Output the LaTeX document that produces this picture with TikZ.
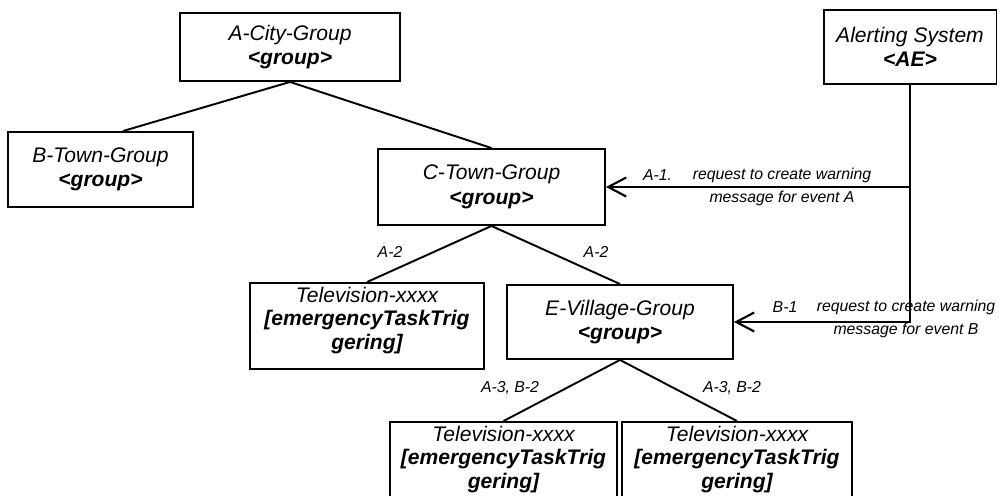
\documentclass[tikz,border=0pt]{standalone}
\usepackage{fontspec}
\setmainfont{Liberation Sans}
\usetikzlibrary{arrows.meta}

\begin{document}
\begin{tikzpicture}[
    x=0.02cm, y=-0.02cm,
    group box/.style={draw, line width=1.1pt, align=center, inner sep=1pt,
        font=\fontsize{12}{14}\selectfont\itshape},
    device box/.style={group box, font=\fontsize{12}{13.5}\selectfont\itshape, text depth=9pt},
    tree line/.style={line width=1.1pt},
    request line/.style={line width=1.2pt, -{Straight Barb[length=3.6mm, width=3.8mm]}},
    step label/.style={font=\fontsize{9}{13}\selectfont\itshape, inner sep=0pt, align=center}
]
    % Frame
    \useasboundingbox (0,0) rectangle (999,496);
    \clip (0,0) rectangle (999,496);

    % Groups
    \node[group box, minimum width=4.4cm, minimum height=1.36cm] (acity) at (290,47) {A-City-Group\\\textbf{<group>}};
    \node[group box, minimum width=3.7cm, minimum height=1.5cm] (btown) at (100.5,169.5) {B-Town-Group\\\textbf{<group>}};
    \node[group box, minimum width=4.54cm, minimum height=1.52cm] (ctown) at (491.5,187) {C-Town-Group\\\textbf{<group>}};
    \node[group box, minimum width=4.52cm, minimum height=1.48cm] (evillage) at (620,322) {E-Village-Group\\\textbf{<group>}};
    \node[group box, minimum width=3.46cm, minimum height=1.48cm] (alert) at (910,47) {Alerting System\\\textbf{<AE>}};

    % Devices (the lower two run off the page)
    \node[device box, minimum width=4.68cm, minimum height=1.72cm] (tvleft) at (367,326) {Television-xxxx\\\textbf{[emergencyTaskTrig}\\\textbf{gering]}};
    \node[device box, minimum width=4.54cm, minimum height=1.72cm] (tvbl) at (503.5,465) {Television-xxxx\\\textbf{[emergencyTaskTrig}\\\textbf{gering]}};
    \node[device box, minimum width=4.6cm, minimum height=1.72cm] (tvbr) at (737,465) {Television-xxxx\\\textbf{[emergencyTaskTrig}\\\textbf{gering]}};

    % Tree
    \draw[tree line] (acity.south) -- ([xshift=0.45cm]btown.north);
    \draw[tree line] (acity.south) -- (ctown.north);
    \draw[tree line] (ctown.south) -- (tvleft.north);
    \draw[tree line] (ctown.south) -- (evillage.north);
    \draw[tree line] (evillage.south) -- (tvbl.north);
    \draw[tree line] (evillage.south) -- (tvbr.north);

    % Requests from the alerting system
    \draw[request line] (alert.south) |- (evillage.east);
    \draw[request line] (alert.south |- ctown.east) -- (ctown.east);

    % Step labels
    \node[step label] (a2left) at (390,252) {A-2};
    \node[step label] (a2right) at (596,252) {A-2};
    \node[step label] (a3left) at (510,388) {A-3, B-2};
    \node[step label] (a3right) at (732,388) {A-3, B-2};
    \node[step label] (a1step) at (657.5,175) {A-1.};
    \node[step label] (a1text) at (782,186.5) {request to create warning\\message for event A};
    \node[step label] (b1step) at (785,307) {B-1};
    \node[step label] (b1text) at (906,318.5) {request to create warning\\message for event B};

\end{tikzpicture}
\end{document}
